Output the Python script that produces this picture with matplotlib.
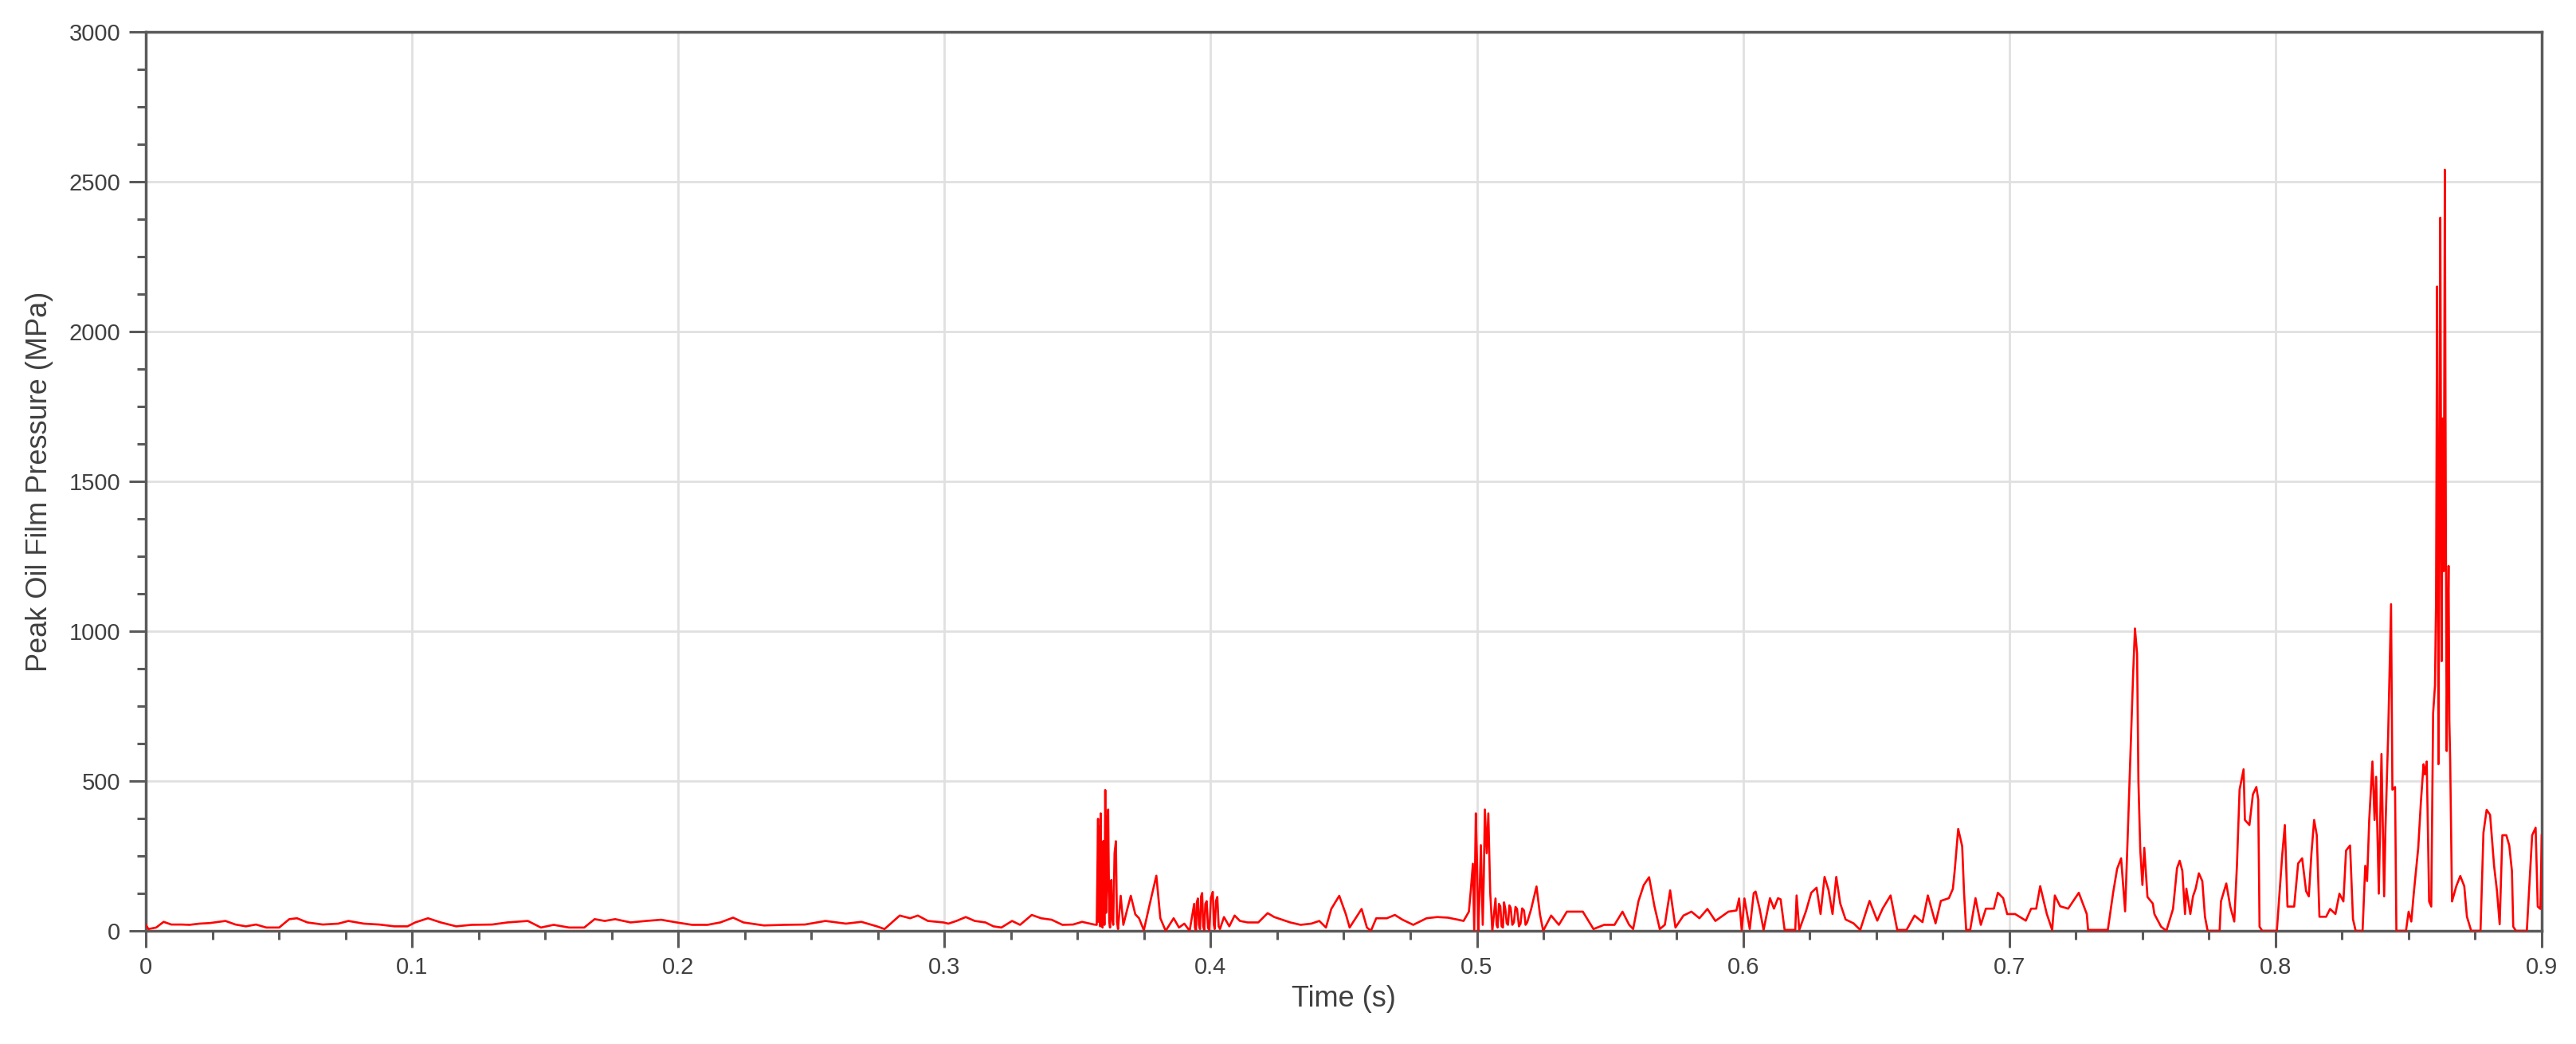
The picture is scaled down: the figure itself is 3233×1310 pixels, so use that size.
"""
plot.py
-------
Peak oil film pressure over time, single red trace on a light grid.

Values were read off the reference plot by eye, window by window.
"""

import numpy as np
import matplotlib.pyplot as plt
from matplotlib.ticker import MultipleLocator

# --- 0.0 - 0.3 s : quiet baseline ---
t_early = [0.0, 0.001, 0.0039, 0.0067, 0.0096, 0.0135, 0.0164, 0.0202, 0.0241, 0.0299,
           0.0337, 0.0376, 0.0414, 0.0453, 0.0501, 0.0539, 0.0568, 0.0607, 0.0665, 0.0723,
           0.0761, 0.0819, 0.0877, 0.0934, 0.0983, 0.1012, 0.106, 0.1108, 0.1166, 0.1224,
           0.1301, 0.1358, 0.1435, 0.1484, 0.1532, 0.159, 0.1647, 0.1686, 0.1724, 0.1763,
           0.1821, 0.1879, 0.1936, 0.1994, 0.2052, 0.211, 0.2158, 0.2206, 0.2245, 0.2322,
           0.2399, 0.2476, 0.2553, 0.263, 0.2688, 0.2746, 0.2775, 0.2832, 0.2871, 0.29,
           0.2938, 0.2996]
p_early = [20, 6, 11, 30, 21, 21, 20, 24, 26, 33,
           21, 15, 21, 11, 11, 39, 42, 28, 21, 24,
           33, 24, 21, 15, 15, 28, 42, 28, 15, 20,
           21, 28, 33, 11, 20, 11, 11, 39, 33, 39,
           28, 33, 37, 28, 20, 20, 28, 44, 28, 18,
           20, 21, 33, 24, 30, 15, 6, 51, 42, 51,
           33, 28]

# --- 0.3 - 0.455 s : first burst near 0.36 s ---
t_burst1 = [0.3015, 0.3045, 0.308, 0.3114, 0.3154, 0.3184, 0.3214, 0.3254, 0.3284, 0.3328,
            0.3363, 0.3403, 0.3443, 0.3483, 0.3517, 0.3562, 0.3572, 0.3577, 0.3579, 0.3582,
            0.3585, 0.3587, 0.3590, 0.3594, 0.3597, 0.3601, 0.3604, 0.3607, 0.361, 0.3613,
            0.3615, 0.3619, 0.3622, 0.3627, 0.3630, 0.3634, 0.3639, 0.3644, 0.3648, 0.3652,
            0.3662, 0.3672, 0.3687, 0.37, 0.3717, 0.3731, 0.3749, 0.3776, 0.3796, 0.3811,
            0.3831, 0.3861, 0.3881, 0.3901, 0.3921, 0.3938, 0.3941, 0.3945, 0.3948, 0.3952,
            0.3956, 0.396, 0.3964, 0.3968, 0.3972, 0.3976, 0.398, 0.3985, 0.399, 0.3995,
            0.4001, 0.4008, 0.4012, 0.4015, 0.402, 0.4025, 0.403, 0.4035, 0.405, 0.407,
            0.409, 0.411, 0.4139, 0.4179, 0.4214, 0.4239, 0.4269, 0.4299, 0.4338, 0.4378,
            0.4408, 0.4433, 0.4453, 0.4483, 0.4508, 0.4522]
p_burst1 = [24, 33, 46, 33, 28, 15, 11, 33, 20, 53,
            42, 37, 20, 21, 30, 21, 20, 374, 30, 350,
            15, 392, 40, 11, 300, 20, 470, 60, 135, 380,
            405, 30, 11, 170, 40, 20, 260, 299, 30, 6,
            117, 20, 73, 117, 55, 42, 2, 108, 184, 42,
            0, 42, 11, 24, 0, 90, 10, 2, 95, 108,
            20, 6, 115, 126, 15, 2, 90, 99, 10, 2,
            110, 130, 20, 6, 100, 113, 15, 6, 46, 15,
            51, 33, 28, 28, 59, 46, 37, 28, 20, 24,
            33, 11, 73, 117, 55, 11]

# --- 0.455 - 0.605 s : second burst near 0.50 s ---
t_burst2 = [0.4567, 0.4587, 0.4602, 0.4622, 0.4662, 0.4692, 0.4721, 0.4761, 0.4811, 0.4851,
            0.4891, 0.493, 0.495, 0.497, 0.4978, 0.4985, 0.499, 0.4996, 0.5, 0.5005,
            0.5010, 0.5015, 0.5022, 0.5026, 0.503, 0.5037, 0.5043, 0.505, 0.5058, 0.507,
            0.5074, 0.5078, 0.5083, 0.5088, 0.5093, 0.5098, 0.5102, 0.5107, 0.5112, 0.5117,
            0.5122, 0.5127, 0.5133, 0.5139, 0.5145, 0.5151, 0.5158, 0.5164, 0.517, 0.5177,
            0.5183, 0.5189, 0.5204, 0.5224, 0.5237, 0.5249, 0.5279, 0.5308, 0.5338, 0.5368,
            0.5398, 0.5438, 0.5478, 0.5517, 0.5547, 0.5572, 0.5587, 0.5607, 0.5627, 0.5647,
            0.5667, 0.5687, 0.5706, 0.5726, 0.5746, 0.5776, 0.5806, 0.5836, 0.5866, 0.5896,
            0.5945, 0.5975, 0.5985, 0.5995, 0.6005, 0.6025, 0.604]
p_burst2 = [73, 11, 0, 42, 42, 53, 37, 20, 42, 46,
            44, 37, 33, 64, 144, 224, 0, 392, 250, 0,
            120, 286, 20, 180, 405, 259, 392, 130, 0, 108,
            20, 11, 90, 82, 15, 11, 95, 73, 25, 20,
            85, 77, 20, 28, 80, 73, 15, 24, 75, 68,
            20, 28, 73, 148, 55, 0, 51, 20, 64, 64,
            64, 6, 20, 20, 64, 20, 6, 99, 153, 179,
            82, 6, 20, 135, 11, 51, 64, 42, 73, 33,
            64, 68, 108, 0, 108, 6, 126]

# --- 0.605 - 0.754 s : rising activity, peak near 0.747 s ---
t_mid = [0.6047, 0.6062, 0.6077, 0.6087, 0.6101, 0.6116, 0.6131, 0.6141, 0.6156, 0.6196,
         0.6201, 0.6211, 0.6236, 0.6256, 0.6276, 0.6291, 0.6306, 0.6321, 0.6336, 0.635,
         0.6365, 0.6385, 0.6415, 0.644, 0.6475, 0.6504, 0.6524, 0.6554, 0.6579, 0.6614,
         0.6644, 0.6674, 0.6694, 0.6723, 0.6743, 0.6773, 0.6788, 0.6795, 0.6808, 0.6823,
         0.683, 0.6838, 0.6853, 0.6873, 0.6893, 0.6912, 0.6942, 0.6957, 0.6977, 0.6992,
         0.7022, 0.7062, 0.7082, 0.7101, 0.7116, 0.7141, 0.7161, 0.7171, 0.7191, 0.7221,
         0.7261, 0.7291, 0.7296, 0.737, 0.739, 0.7405, 0.742, 0.7435, 0.7445, 0.7455,
         0.7465, 0.7472, 0.748, 0.7485, 0.7492, 0.75, 0.7507, 0.7519, 0.7539]
p_mid = [131, 74, 3, 47, 109, 74, 109, 105, 3, 3,
         118, 3, 65, 127, 144, 56, 180, 136, 56, 180,
         91, 38, 25, 3, 100, 34, 74, 118, 3, 3,
         51, 29, 118, 25, 100, 109, 140, 202, 340, 282,
         127, 3, 3, 109, 20, 74, 74, 127, 109, 56,
         56, 34, 74, 74, 149, 56, 3, 118, 82, 74,
         127, 56, 3, 3, 127, 207, 242, 65, 322, 588,
         854, 1009, 925, 499, 269, 153, 277, 113, 91]

# --- 0.754 - 0.829 s ---
t_late = [0.7545, 0.757, 0.759, 0.7615, 0.763, 0.764, 0.765, 0.766, 0.7665, 0.768,
          0.769, 0.77, 0.7712, 0.7725, 0.7735, 0.7745, 0.779, 0.7795, 0.7815, 0.783,
          0.7845, 0.7855, 0.7865, 0.788, 0.7885, 0.7902, 0.7915, 0.7928, 0.7935, 0.794,
          0.795, 0.8005, 0.8015, 0.8025, 0.8035, 0.8045, 0.807, 0.8085, 0.81, 0.8115,
          0.8125, 0.8135, 0.8145, 0.8155, 0.8165, 0.819, 0.8205, 0.8225, 0.824, 0.8255,
          0.8265, 0.828]
p_late = [56, 14, 0, 73, 209, 234, 200, 56, 141, 56,
          115, 141, 192, 166, 47, 0, 0, 98, 158, 81,
          31, 217, 471, 539, 370, 353, 455, 480, 438, 14,
          0, 0, 124, 251, 353, 81, 81, 225, 242, 132,
          115, 259, 370, 319, 47, 47, 73, 56, 124, 98,
          268, 285]

# --- 0.829 - 0.9 s : largest spikes ---
t_end = [0.8291, 0.8301, 0.8327, 0.8337, 0.8344, 0.8352, 0.8364, 0.8372, 0.8378, 0.8388,
         0.8398, 0.8408, 0.8413, 0.8423, 0.8434, 0.8439, 0.8449, 0.8454, 0.849, 0.85,
         0.851, 0.852, 0.8536, 0.8546, 0.8556, 0.8561, 0.8568, 0.8577, 0.8585, 0.8592,
         0.8599, 0.8603, 0.8607, 0.8612, 0.8616, 0.8619, 0.8624, 0.8628, 0.8632, 0.8636,
         0.864, 0.8643, 0.8646, 0.865, 0.8653, 0.8656,
         0.8663, 0.8679, 0.8694, 0.8709, 0.8719, 0.8735, 0.877, 0.8781, 0.8793, 0.8806,
         0.8821, 0.8832, 0.8842, 0.8852, 0.8867, 0.8878, 0.8888, 0.8893, 0.8903, 0.8944,
         0.8954, 0.8964, 0.8977, 0.8985, 0.8995, 0.9]
p_end = [39, 0, 0, 217, 166, 370, 565, 370, 514, 124,
         590, 115, 344, 650, 1090, 471, 480, 0, 0, 64,
         31, 132, 276, 429, 556, 522, 565, 98, 81, 726,
         819, 1100, 2150, 556, 1500, 2380, 900, 1710, 1200, 2540,
         1303, 600, 929, 1218, 700, 573,
         98, 149, 183, 149, 47, 0, 0, 327, 404, 387,
         217, 132, 22, 319, 319, 285, 200, 14, 0, 0,
         158, 319, 344, 81, 73, 319]

x_ticks = [0, 0.1, 0.2, 0.3, 0.4, 0.5, 0.6, 0.7, 0.8, 0.9]
x_tick_labels = ["0", "0.1", "0.2", "0.3", "0.4", "0.5", "0.6", "0.7", "0.8", "0.9"]
y_ticks = [0, 500, 1000, 1500, 2000, 2500, 3000]


def main():
    plt.rcParams["font.family"] = ["Liberation Sans", "DejaVu Sans"]

    time_s = np.concatenate([t_early, t_burst1, t_burst2, t_mid, t_late, t_end])
    pressure = np.concatenate([p_early, p_burst1, p_burst2, p_mid, p_late, p_end])

    fig = plt.figure(figsize=(32.33, 13.10), dpi=100)
    ax = fig.add_axes([0.0566, 0.1084, 0.9301, 0.8611])

    ax.plot(time_s, pressure, color="#ff0000", linewidth=1.9, zorder=3)

    ax.set_xlim(0, 0.9)
    ax.set_ylim(0, 3000)
    ax.set_xticks(x_ticks)
    ax.set_xticklabels(x_tick_labels)
    ax.set_yticks(y_ticks)
    ax.xaxis.set_minor_locator(MultipleLocator(0.025))
    ax.yaxis.set_minor_locator(MultipleLocator(125))

    ax.grid(True, which="major", color="#e0e0e0", linewidth=2.0, zorder=0)
    ax.set_axisbelow(True)

    for side in ["left", "bottom", "top", "right"]:
        ax.spines[side].set_color("#5a5a5a")
        ax.spines[side].set_linewidth(2.5)

    ax.tick_params(which="major", direction="out", length=15, width=2.2,
                   color="#5a5a5a", labelsize=21, labelcolor="#404040", pad=8)
    ax.tick_params(which="minor", direction="out", length=8, width=2.2,
                   color="#5a5a5a")

    ax.set_xlabel("Time (s)", fontsize=26, color="#404040", labelpad=6)
    ax.set_ylabel("Peak Oil Film Pressure (MPa)", fontsize=26, color="#404040", labelpad=14)

    fig.savefig("out.png", dpi=100)


if __name__ == "__main__":
    main()
